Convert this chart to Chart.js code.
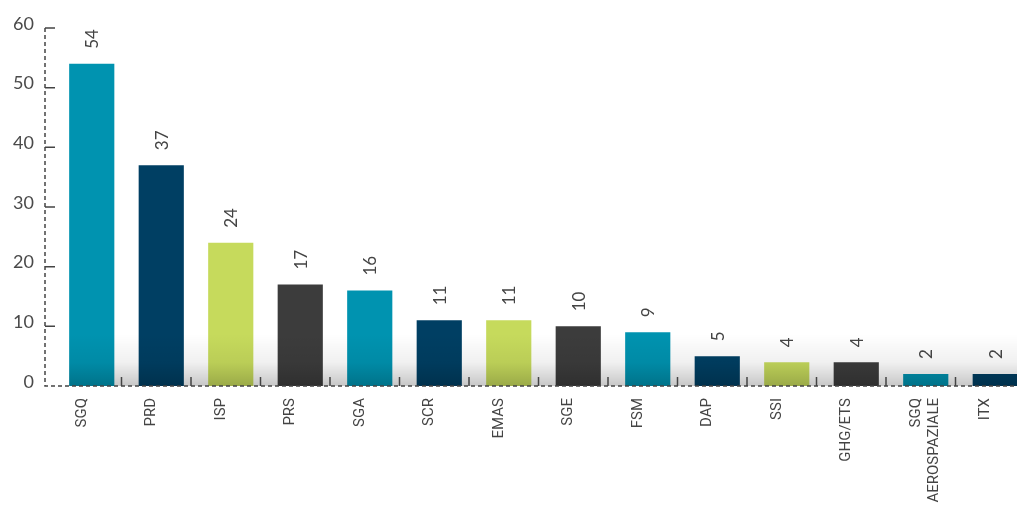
<!DOCTYPE html>
<html lang="it">

<head>
    <meta charset="UTF-8">
    <meta name="viewport" content="width=device-width, initial-scale=1.0">
    <script src="https://cdn.jsdelivr.net/npm/chart.js@4.4.1/dist/chart.umd.min.js"></script>
    <title>Certificazioni</title>
    <style>
        html, body { margin: 0; padding: 0; overflow: hidden; background: #fff; }
    </style>
</head>

<body>
    <canvas id="myChart" width="1030" height="506"></canvas>

    <script>
        // data
        const categories = ['SGQ', 'PRD', 'ISP', 'PRS', 'SGA', 'SCR', 'EMAS', 'SGE', 'FSM', 'DAP', 'SSI', 'GHG/ETS', ['SGQ', 'AEROSPAZIALE'], 'ITX'];
        const values = [54, 37, 24, 17, 16, 11, 11, 10, 9, 5, 4, 4, 2, 2];
        const yTicks = [0, 10, 20, 30, 40, 50, 60];
        const palette = ['#0093B0', '#003F63', '#C6DA5C', '#3C3C3C'];
        const barColors = values.map((v, i) => palette[i % 4]);

        // dashed axes, inner ticks, value labels and the soft floor shadow
        const decorPlugin = {
            id: 'decor',
            afterDatasetsDraw(chart) {
                const ctx = chart.ctx;
                const x = chart.scales.x, y = chart.scales.y;
                const y0 = y.getPixelForValue(0);
                const axisX = chart.chartArea.left - 12;
                const bars = chart.getDatasetMeta(0).data;

                // shadow on the floor
                ctx.save();
                const startX = bars[0].x - bars[0].width / 2;
                const g = ctx.createLinearGradient(0, y0 - 52, 0, y0);
                g.addColorStop(0, 'rgba(0,0,0,0)');
                g.addColorStop(0.55, 'rgba(0,0,0,0.06)');
                g.addColorStop(1, 'rgba(0,0,0,0.22)');
                ctx.fillStyle = g;
                ctx.fillRect(startX, y0 - 52, chart.width - startX, 52);
                ctx.restore();

                // axes
                ctx.save();
                ctx.strokeStyle = '#444';
                ctx.lineWidth = 1.5;
                ctx.setLineDash([4, 3]);
                ctx.beginPath();
                ctx.moveTo(axisX, y.getPixelForValue(yTicks[yTicks.length - 1]));
                ctx.lineTo(axisX, y0);
                ctx.lineTo(chart.width, y0);
                ctx.stroke();
                ctx.setLineDash([]);
                ctx.beginPath();
                yTicks.slice(1).forEach(t => {
                    const py = y.getPixelForValue(t);
                    ctx.moveTo(axisX, py);
                    ctx.lineTo(axisX + 10, py);
                });
                for (let i = 0; i < categories.length - 1; i++) {
                    const px = (x.getPixelForValue(i) + x.getPixelForValue(i + 1)) / 2 - 5;
                    ctx.moveTo(px, y0);
                    ctx.lineTo(px, y0 - 9);
                }
                ctx.stroke();
                ctx.restore();

                // value labels, rotated
                ctx.save();
                ctx.fillStyle = '#444';
                ctx.font = '17px Lato';
                ctx.textAlign = 'left';
                ctx.textBaseline = 'middle';
                bars.forEach((bar, i) => {
                    ctx.save();
                    ctx.translate(bar.x + 1, bar.y - 15);
                    ctx.rotate(-Math.PI / 2);
                    ctx.fillText(String(values[i]), 0, 0);
                    ctx.restore();
                });
                ctx.restore();
            }
        };

        var ctx = document.getElementById('myChart').getContext('2d');
        var myChart = new Chart(ctx, {
            type: 'bar',
            data: {
                labels: categories,
                datasets: [{
                    data: values,
                    backgroundColor: barColors,
                    borderWidth: 0,
                    barPercentage: 0.65,
                    categoryPercentage: 1
                }]
            },
            options: {
                responsive: false,
                animation: false,
                layout: { padding: { top: 28, right: 0, left: 0, bottom: 0 } },
                plugins: {
                    legend: { display: false },
                    tooltip: { enabled: false }
                },
                scales: {
                    x: {
                        grid: { display: false, drawTicks: false },
                        border: { display: false },
                        afterFit: (scale) => { scale.height = 120; scale.paddingLeft = 0; scale.paddingRight = 0; },
                        ticks: {
                            autoSkip: false,
                            maxRotation: 90,
                            minRotation: 90,
                            padding: 12,
                            labelOffset: -10,
                            color: '#444',
                            font: { family: 'Roboto', size: 15 }
                        }
                    },
                    y: {
                        min: 0,
                        max: 60,
                        grid: { display: false, drawTicks: false },
                        border: { display: false },
                        afterFit: (scale) => { scale.width = 57; scale.paddingTop = 0; scale.paddingBottom = 0; },
                        afterBuildTicks: (scale) => { scale.ticks = yTicks.map(v => ({ value: v })); },
                        ticks: {
                            padding: 23,
                            labelOffset: -4,
                            color: '#4a4a4a',
                            font: { family: 'Lato', size: 18 }
                        }
                    }
                }
            },
            plugins: [decorPlugin]
        });
    </script>

</body>

</html>
